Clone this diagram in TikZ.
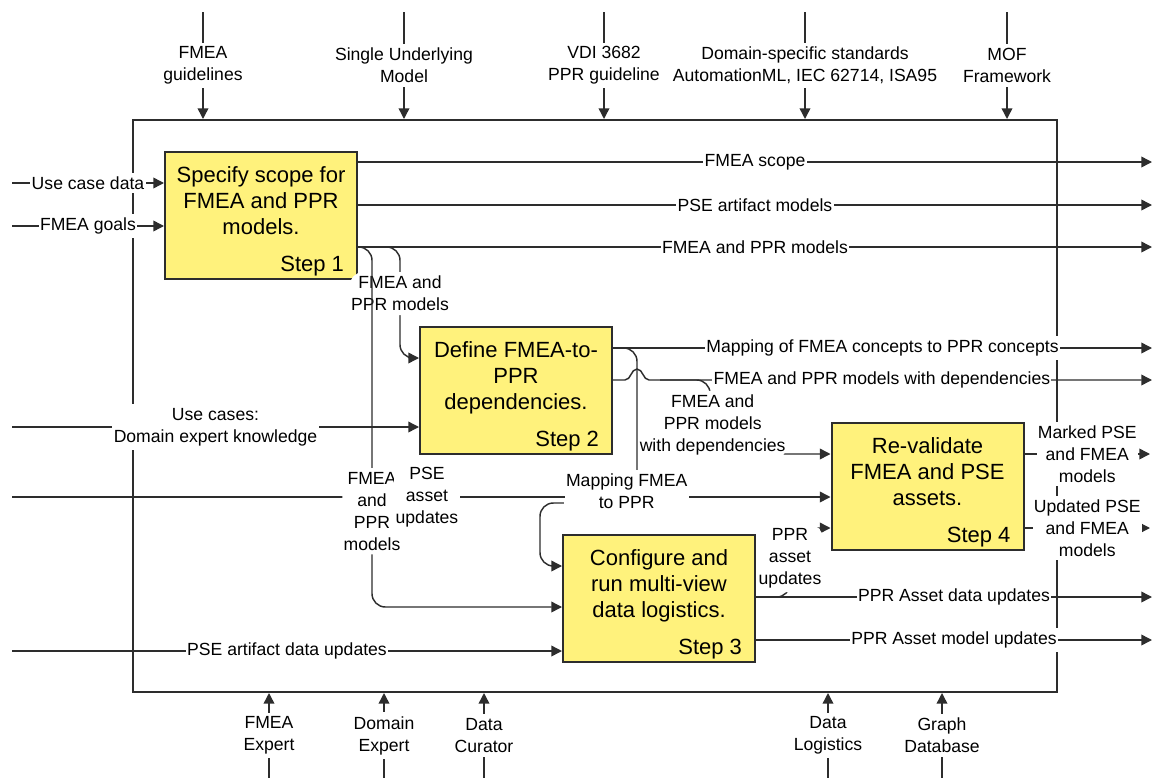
\documentclass[tikz,border=0pt]{standalone}
\usepackage{fontspec}
\setmainfont{Liberation Sans}
\usepackage{tikz}
\usetikzlibrary{arrows.meta,positioning}
\definecolor{actyellow}{RGB}{255,242,124}
\definecolor{linegray}{RGB}{45,45,45}
\tikzset{
  act_box/.style = {rectangle, draw=linegray, line width=1.5pt, fill=actyellow,
    minimum width=144pt, minimum height=95pt, inner sep=0pt},% activity box
  act_txt/.style = {align=center, inner sep=0pt, text=black,
    font=\fontsize{16.5}{19.5}\selectfont},% activity title
  act_num/.style = {inner sep=0pt, text=black,
    font=\fontsize{16.5}{19.5}\selectfont},% step number
  ctx_box/.style = {rectangle, draw=linegray, line width=1.5pt,
    minimum width=693pt, minimum height=429pt, inner sep=0pt},% context frame
  arr_lbl/.style = {align=center, fill=white, text=black, inner xsep=1pt,
    inner ysep=3pt, font=\fontsize{13.2}{16.5}\selectfont}% arrow label
}

\begin{document}
\begin{tikzpicture}[x=0.75pt,y=-0.75pt,->,>={Triangle[length=8pt,width=8pt]},line width=1.1pt,color=linegray]
\useasboundingbox (0,0) rectangle (1153,778);

\node [ctx_box] (frame) at (595,406) {};

% activities
\node [act_box] (s1) at (261,215.5) {};
\node [act_txt, below=11pt of s1.north] (s1t) {Specify scope for\\FMEA and PPR\\models.};
\node [act_num, above left=2pt and 10pt of s1.south east] (s1n) {Step 1};
\node [act_box] (s2) at (516,390.5) {};
\node [act_txt, below=11pt of s2.north] (s2t) {Define FMEA-to-\\PPR\\dependencies.};
\node [act_num, above left=2pt and 10pt of s2.south east] (s2n) {Step 2};
\node [act_box] (s3) at (659,598.5) {};
\node [act_txt, below=11pt of s3.north] (s3t) {Configure and\\run multi-view\\data logistics.};
\node [act_num, above left=2pt and 10pt of s3.south east] (s3n) {Step 3};
\node [act_box] (s4) at (927.5,486.5) {};
\node [act_txt, below=11pt of s4.north] (s4t) {Re-validate\\FMEA and PSE\\assets.};
\node [act_num, above left=2pt and 10pt of s4.south east] (s4n) {Step 4};

% free ends
\coordinate (c1) at (203,12);
\coordinate (c2) at (404,12);
\coordinate (c3) at (604,12);
\coordinate (c4) at (805,12);
\coordinate (c5) at (1007,12);
\coordinate (m1) at (269,778);
\coordinate (m2) at (384,778);
\coordinate (m3) at (484,778);
\coordinate (m4) at (828,778);
\coordinate (m5) at (942,778);
\coordinate (i1) at (12,183);
\coordinate (i2) at (12,226);
\coordinate (i3) at (12,427);
\coordinate (i4) at (12,497);
\coordinate (i5) at (12,651);
\coordinate (o1) at (1152,162);
\coordinate (o2) at (1152,205);
\coordinate (o3) at (1152,247);
\coordinate (o4) at (1152,348);
\coordinate (o5) at (1152,380);
\coordinate (o6) at (1150,454);
\coordinate (o7) at (1150,528);
\coordinate (o8) at (1152,597);
\coordinate (o9) at (1152,640);
\coordinate (jmap) at (637,490);
\coordinate (jdep) at (660,380);

% controls
\draw (c1) -- node[arr_lbl] (lc1) {FMEA\\guidelines} (c1 |- frame.north);
\draw (c2) -- node[arr_lbl] (lc2) {Single Underlying\\Model} (c2 |- frame.north);
\draw (c3) -- node[arr_lbl] (lc3) {VDI 3682\\PPR guideline} (c3 |- frame.north);
\draw (c4) -- node[arr_lbl] (lc4) {Domain-specific standards\\AutomationML, IEC 62714, ISA95} (c4 |- frame.north);
\draw (c5) -- node[arr_lbl] (lc5) {MOF\\Framework} (c5 |- frame.north);

% mechanisms
\draw (m1) -- node[arr_lbl] (lm1) {FMEA\\Expert} (m1 |- frame.south);
\draw (m2) -- node[arr_lbl] (lm2) {Domain\\Expert} (m2 |- frame.south);
\draw (m3) -- node[arr_lbl] (lm3) {Data\\Curator} (m3 |- frame.south);
\draw (m4) -- node[arr_lbl] (lm4) {Data\\Logistics} (m4 |- frame.south);
\draw (m5) -- node[arr_lbl] (lm5) {Graph\\Database} (m5 |- frame.south);

% inputs
\draw (i1) -- node[arr_lbl] (li1) {Use case data} (s1.west |- i1);
\draw (i2) -- node[arr_lbl] (li2) {FMEA goals} (s1.west |- i2);
\draw (i3) -- node[arr_lbl] (li3) {Use cases:\\Domain expert knowledge} (s2.west |- i3);
\draw (i5) -- node[arr_lbl] (li5) {PSE artifact data updates} (s3.west |- i5);
\draw (i4) -- (s4.west |- i4);

% step 1 outputs
\draw (s1.east |- o1) -- node[arr_lbl] (lo1) {FMEA scope} (o1);
\draw (s1.east |- o2) -- node[arr_lbl] (lo2) {PSE artifact models} (o2);
\draw (s1.east |- o3) -- node[arr_lbl] (lo3) {FMEA and PPR models} (o3);
\draw [rounded corners=10pt] (s1.east |- o3) -| node[arr_lbl,pos=0.71] (lb1) {FMEA and\\PPR models} (400,358) -- (s2.west |- 0,358);
\draw [rounded corners=10pt] (s1.east |- o3) -| node[arr_lbl,pos=0.867] (lb2) {FMEA\\and\\PPR\\models} (372,607) -- (s3.west |- 0,607);

% step 2 outputs
\draw (s2.east |- o4) -- node[arr_lbl] (lo4) {Mapping of FMEA concepts to PPR concepts} (o4);
\draw [-,rounded corners=10pt] (s2.east |- o4) -| (jmap);
\draw (s2.east |- o5) -- (625,380) .. controls (631,380) and (631,369) .. (637,369)
  .. controls (643,369) and (643,380) .. (649,380)
  -- node[arr_lbl,pos=0.463] (lo5) {FMEA and PPR models with dependencies} (o5);
\draw [rounded corners=10pt] (jdep) -| node[arr_lbl,pos=0.805,xshift=2pt] (lb3) {FMEA and\\PPR models\\with dependencies} (710,454) -- (s4.west |- 0,454);

% shared line to step 4
\path (i4) -- node[arr_lbl,pos=0.507] (lpse) {PSE\\asset\\updates}
  node[arr_lbl,pos=0.751,yshift=4.5pt] (lmap) {Mapping FMEA\\to PPR} (s4.west |- i4);
\draw [rounded corners=10pt] ([yshift=-9pt]lmap.west) -| (540,566) -- (s3.west |- 0,566);

% step 3 outputs
\draw (s3.east |- o8) -- node[arr_lbl] (lo8) {PPR Asset data updates} (o8);
\draw (s3.east |- o9) -- node[arr_lbl] (lo9) {PPR Asset model updates} (o9);
\draw [rounded corners=10pt] (s3.east |- o8) -| node[arr_lbl,pos=0.78] (lb4) {PPR\\asset\\updates} (790,528) -- (s4.west |- 0,528);

% step 4 outputs
\draw (s4.east |- o6) -- node[arr_lbl] (lo6) {Marked PSE\\and FMEA\\models} (o6);
\draw (s4.east |- o7) -- node[arr_lbl] (lo7) {Updated PSE\\and FMEA\\models} (o7);
\end{tikzpicture}
\end{document}
